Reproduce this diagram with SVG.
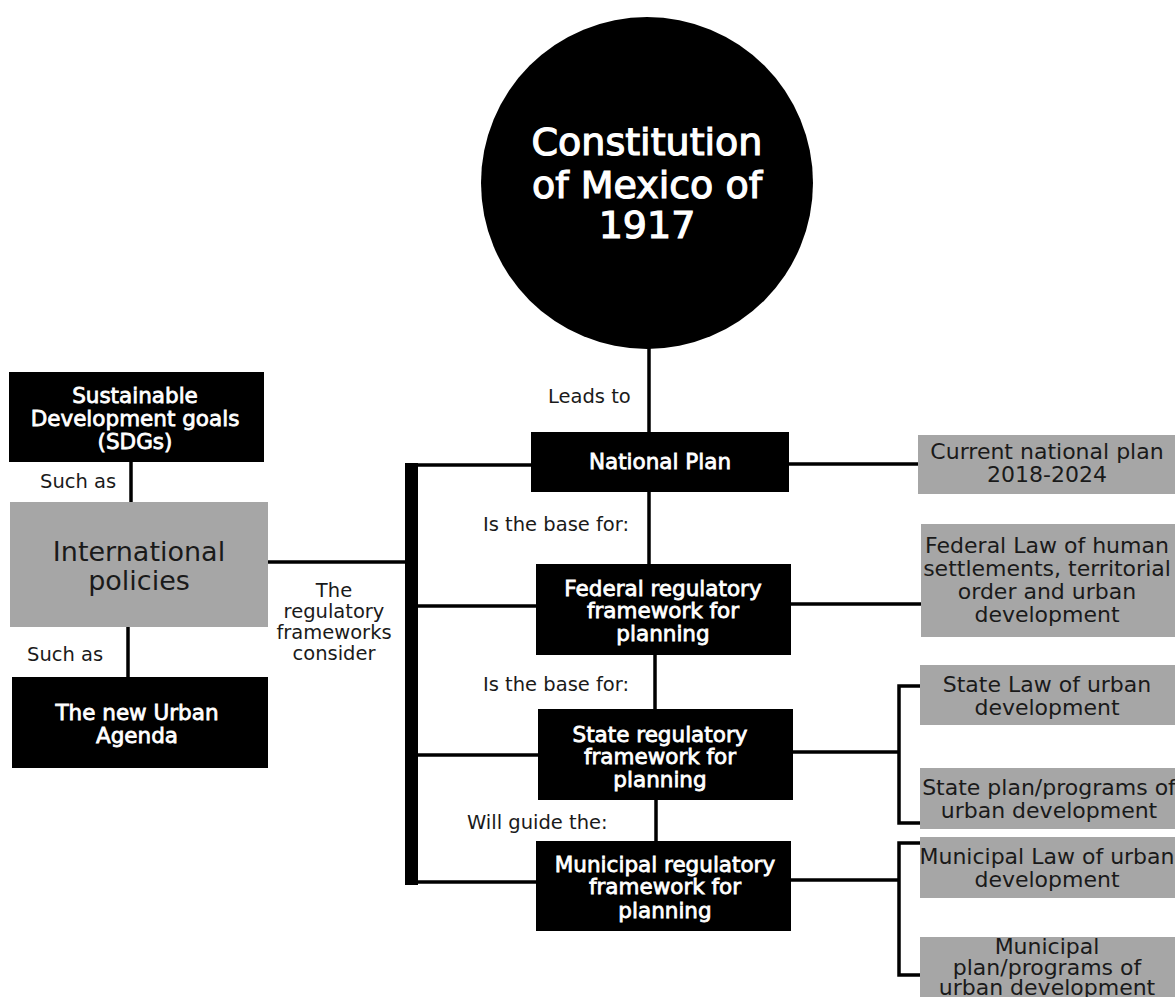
<svg xmlns="http://www.w3.org/2000/svg" width="1175" height="997" viewBox="0 0 1175 997">
<style>
  .blk { fill: #000; }
  .gry { fill: #a6a6a6; }
  .wt { font-family: "DejaVu Sans", "Liberation Sans", sans-serif; font-weight: 400; fill: #fff; stroke: #fff; stroke-width: 0.8; text-anchor: middle; font-size: 21.5px; }
  .gt { font-family: "DejaVu Sans", "Liberation Sans", sans-serif; font-weight: 400; fill: #1a1a1a; text-anchor: middle; font-size: 22px; }
  .lbl { font-family: "DejaVu Sans", "Liberation Sans", sans-serif; font-weight: 400; fill: #1a1a1a; font-size: 19.5px; }
  .ln { stroke: #000; stroke-width: 3.5; fill: none; }
</style>
<rect width="1175" height="997" fill="#fff"/>
<g id="connectors">
  <line class="ln" x1="649" y1="340" x2="649" y2="434"/>
  <line class="ln" x1="649" y1="490" x2="649" y2="566"/>
  <line class="ln" x1="655" y1="653" x2="655" y2="711"/>
  <line class="ln" x1="656" y1="798" x2="656" y2="843"/>
  <rect x="405" y="463" width="13" height="422" fill="#000"/>
  <line class="ln" x1="405" y1="465" x2="533" y2="465"/>
  <line class="ln" x1="405" y1="606" x2="538" y2="606"/>
  <line class="ln" x1="405" y1="755" x2="540" y2="755"/>
  <line class="ln" x1="405" y1="882" x2="538" y2="882"/>
  <line class="ln" x1="266" y1="562" x2="407" y2="562"/>
  <line class="ln" x1="131" y1="460" x2="131" y2="504"/>
  <line class="ln" x1="128" y1="625" x2="128" y2="679"/>
  <line class="ln" x1="787" y1="464" x2="920" y2="464"/>
  <line class="ln" x1="789" y1="604" x2="923" y2="604"/>
  <polyline class="ln" points="791,752 899,752"/>
  <polyline class="ln" points="921,686 899,686 899,823 921,823"/>
  <polyline class="ln" points="789,880 899,880"/>
  <polyline class="ln" points="921,843 899,843 899,975 921,975"/>
</g>
<g id="constitution">
  <circle cx="647" cy="183" r="166" class="blk"/>
  <text x="647" y="155" class="wt" style="font-size:38px;stroke-width:1.2">Constitution</text>
  <text x="647" y="198" class="wt" style="font-size:38px;stroke-width:1.2">of Mexico of</text>
  <text x="647" y="238" class="wt" style="font-size:38px;stroke-width:1.2">1917</text>
</g>
<g id="label-leads"><text x="548" y="403" class="lbl">Leads to</text></g>
<g id="national-plan">
  <rect x="531" y="432" width="258" height="60" class="blk"/>
  <text x="660" y="469" class="wt">National Plan</text>
</g>
<g id="label-base1"><text x="483" y="531" class="lbl">Is the base for:</text></g>
<g id="federal">
  <rect x="536" y="564" width="255" height="91" class="blk"/>
  <text x="663" y="596" class="wt">Federal regulatory</text>
  <text x="663" y="618" class="wt">framework for</text>
  <text x="663" y="641" class="wt">planning</text>
</g>
<g id="label-base2"><text x="483" y="691" class="lbl">Is the base for:</text></g>
<g id="state">
  <rect x="538" y="709" width="255" height="91" class="blk"/>
  <text x="660" y="742" class="wt">State regulatory</text>
  <text x="660" y="764" class="wt">framework for</text>
  <text x="660" y="787" class="wt">planning</text>
</g>
<g id="label-guide"><text x="467" y="829" class="lbl">Will guide the:</text></g>
<g id="municipal">
  <rect x="536" y="841" width="255" height="90" class="blk"/>
  <text x="665" y="872" class="wt">Municipal regulatory</text>
  <text x="665" y="894" class="wt">framework for</text>
  <text x="665" y="918" class="wt">planning</text>
</g>
<g id="current-plan">
  <rect x="918" y="435" width="257" height="59" class="gry"/>
  <text x="1047" y="459" class="gt">Current national plan</text>
  <text x="1047" y="482" class="gt">2018-2024</text>
</g>
<g id="federal-law">
  <rect x="921" y="524" width="254" height="113" class="gry"/>
  <text x="1047" y="553" class="gt">Federal Law of human</text>
  <text x="1047" y="576" class="gt">settlements, territorial</text>
  <text x="1047" y="599" class="gt">order and urban</text>
  <text x="1047" y="622" class="gt">development</text>
</g>
<g id="state-law">
  <rect x="920" y="665" width="255" height="60" class="gry"/>
  <text x="1047" y="692" class="gt">State Law of urban</text>
  <text x="1047" y="715" class="gt">development</text>
</g>
<g id="state-plan">
  <rect x="920" y="768" width="255" height="61" class="gry"/>
  <text x="1049" y="795" class="gt">State plan/programs of</text>
  <text x="1049" y="818" class="gt">urban development</text>
</g>
<g id="municipal-law">
  <rect x="920" y="837" width="255" height="61" class="gry"/>
  <text x="1047" y="864" class="gt">Municipal Law of urban</text>
  <text x="1047" y="887" class="gt">development</text>
</g>
<g id="municipal-plan">
  <rect x="920" y="937" width="255" height="60" class="gry"/>
  <text x="1047" y="954" class="gt">Municipal</text>
  <text x="1047" y="975" class="gt">plan/programs of</text>
  <text x="1047" y="995" class="gt">urban development</text>
</g>
<g id="sdgs">
  <rect x="9" y="372" width="255" height="90" class="blk"/>
  <text x="135" y="403" class="wt">Sustainable</text>
  <text x="135" y="426" class="wt">Development goals</text>
  <text x="135" y="449" class="wt">(SDGs)</text>
</g>
<g id="label-such1"><text x="40" y="488" class="lbl">Such as</text></g>
<g id="international">
  <rect x="10" y="502" width="258" height="125" class="gry"/>
  <text x="139" y="561" class="gt" style="font-size:27px">International</text>
  <text x="139" y="590" class="gt" style="font-size:27px">policies</text>
</g>
<g id="label-such2"><text x="27" y="661" class="lbl">Such as</text></g>
<g id="new-urban">
  <rect x="12" y="677" width="256" height="91" class="blk"/>
  <text x="137" y="720" class="wt">The new Urban</text>
  <text x="137" y="743" class="wt">Agenda</text>
</g>
<g id="label-consider">
  <text x="334" y="597" class="lbl" text-anchor="middle">The</text>
  <text x="334" y="618" class="lbl" text-anchor="middle">regulatory</text>
  <text x="334" y="639" class="lbl" text-anchor="middle">frameworks</text>
  <text x="334" y="660" class="lbl" text-anchor="middle">consider</text>
</g>
</svg>
